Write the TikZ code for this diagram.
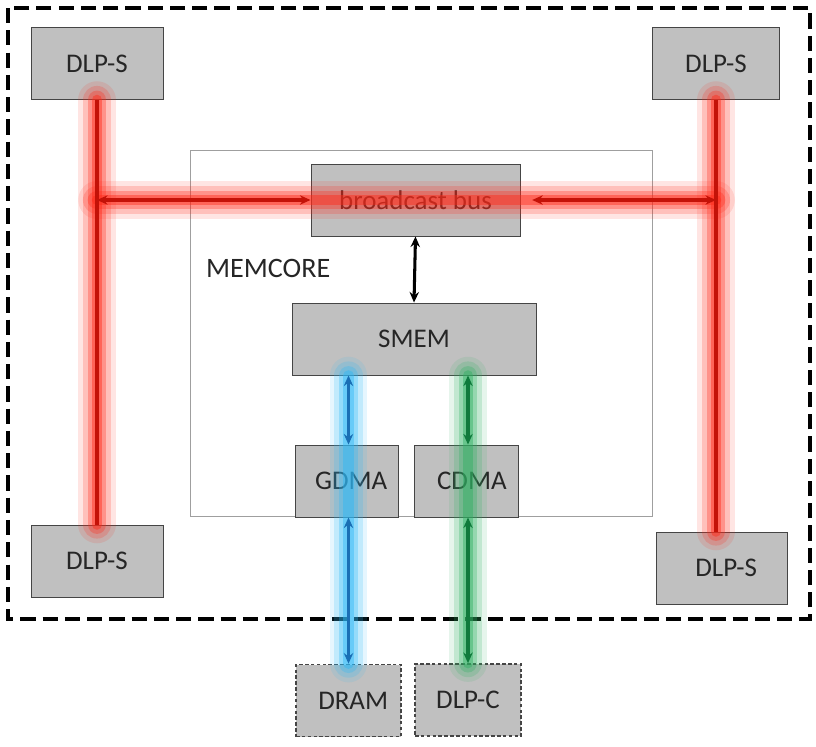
\documentclass[tikz,border=0pt]{standalone}
\usepackage{fontspec}
\setmainfont{Carlito}
\usepackage{xcolor}
\usepackage{tikz}
\usetikzlibrary{calc,arrows.meta,positioning}
\definecolor{boxgray}{HTML}{C0C0C0}
\definecolor{edgegray}{HTML}{454545}
\definecolor{txtgray}{HTML}{262626}
\definecolor{busred}{HTML}{C41208}
\definecolor{glowred}{HTML}{FF2A1A}
\definecolor{dmablue}{HTML}{1A6FB5}
\definecolor{glowblue}{HTML}{2EB8F5}
\definecolor{dmagreen}{HTML}{0F7A3C}
\definecolor{glowgreen}{HTML}{2FB062}

\begin{document}
\begin{tikzpicture}[x=0.03cm, y=-0.03cm,
  blk/.style={draw=edgegray, fill=boxgray, line width=0.8pt, minimum height=2.16cm, inner sep=0pt, font=\fontsize{23}{27}\selectfont, text=txtgray},
  ext/.style={blk, dash pattern=on 3pt off 2pt, line width=1.5pt},
  arr/.style={{Stealth[length=9pt,width=8pt]}-{Stealth[length=9pt,width=8pt]}, line width=2.6pt},
  lbl/.style={font=\fontsize{24}{28}\selectfont, text=txtgray, anchor=west}
]
\useasboundingbox (0,0) rectangle (816,746);
% ---- frame and memcore
\draw[line width=2.6pt, dash pattern=on 13pt off 6pt] (8,8) rectangle (810,619);
\node[draw=gray!75, line width=0.8pt, minimum width=13.86cm, minimum height=10.98cm, inner sep=0pt] (mem) at (421,333) {};
\node[lbl] (memlbl) at (202,268) {MEMCORE};
% ---- blocks
\node[blk, minimum width=3.96cm] (dlpTL) at (97,63.5) {DLP-S};
\node[blk, minimum width=3.81cm] (dlpTR) at (716,63.5) {DLP-S};
\node[blk, minimum width=3.96cm] (dlpBL) at (97,561) {DLP-S};
\node[blk, minimum width=3.93cm] (dlpBR) at (721.5,568) {\hspace{8pt}DLP-S};
\node[blk, minimum width=6.27cm] (bus) at (415.5,200) {broadcast bus};
\node[blk, minimum width=7.32cm] (smem) at (414,339) {SMEM};
\node[blk, minimum width=3.09cm] (gdma) at (346.5,481) {\hspace{8pt}GDMA};
\node[blk, minimum width=3.12cm] (cdma) at (466,481) {\hspace{10pt}CDMA};
\node[ext, minimum width=3.15cm] (dram) at (348.5,700.5) {\hspace{8pt}DRAM};
\node[ext, minimum width=3.18cm] (dlpc) at (468,700) {DLP-C};
% ---- junctions
\coordinate (jl) at (dlpTL.south |- bus.west);
\coordinate (jr) at (dlpTR.south |- bus.east);
% ---- glows
\foreach \w/\o in {32/0.12, 24/0.2, 16/0.3, 9/0.45} {
  \draw[glowred, line width=\w pt, draw opacity=\o, line cap=round] (dlpTL.south) -- (dlpBL.north);
  \draw[glowred, line width=\w pt, draw opacity=\o, line cap=round] (dlpTR.south) -- (dlpTR.south |- dlpBR.north);
  \draw[glowred, line width=\w pt, draw opacity=\o, line cap=round] (jl) -- (jr);
  \draw[glowblue, line width=\w pt, draw opacity=\o, line cap=round] (dram.north |- smem.south) -- (dram.north);
  \draw[glowgreen, line width=\w pt, draw opacity=\o, line cap=round] (dlpc.north |- smem.south) -- (dlpc.north);
}
% ---- links
\draw[busred, line width=3.2pt] (dlpTL.south) -- (dlpBL.north);
\draw[busred, line width=3.2pt] (dlpTR.south) -- (dlpTR.south |- dlpBR.north);
\draw[arr, busred] (jl) -- (bus.west);
\draw[arr, busred, shorten <=10pt] (bus.east) -- (jr);
\draw[arr] (bus.south) -- (smem.north);
\draw[arr, dmablue] (dram.north |- smem.south) -- (dram.north |- gdma.north);
\draw[arr, dmablue] (dram.north |- gdma.south) -- (dram.north);
\draw[arr, dmagreen] (dlpc.north |- smem.south) -- (dlpc.north |- cdma.north);
\draw[arr, dmagreen] (dlpc.north |- cdma.south) -- (dlpc.north);
\end{tikzpicture}
\end{document}
